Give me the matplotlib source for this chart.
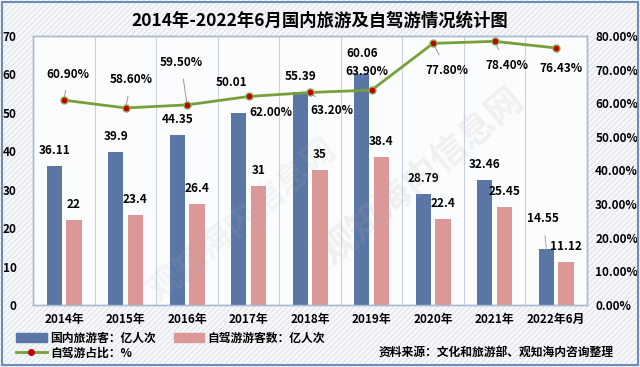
import matplotlib.pyplot as plt
from matplotlib.patches import Rectangle, Patch
from matplotlib.lines import Line2D
from matplotlib.ticker import FuncFormatter, MultipleLocator

plt.rcParams['font.family'] = ['Noto Sans CJK SC', 'DejaVu Sans']
plt.rcParams['font.weight'] = 'bold'

years = ['2014年', '2015年', '2016年', '2017年', '2018年', '2019年', '2020年', '2021年', '2022年6月']
domestic = [36.11, 39.9, 44.35, 50.01, 55.39, 60.06, 28.79, 32.46, 14.55]
selfdrive = [22, 23.4, 26.4, 31, 35, 38.4, 22.4, 25.45, 11.12]
share = [60.90, 58.60, 59.50, 62.00, 63.20, 63.90, 77.80, 78.40, 76.43]
# label offsets for the percent labels (pixels)
share_offsets = [(4, 26), (6, 28), (-6, 42), (22, -16), (22, -18), (-5, 19), (14, -27), (12, -24), (5, -21)]

blue = '#5A76A5'
pink = '#DC9797'
green = '#77A03A'

fig = plt.figure(figsize=(6.4, 3.67), dpi=100)
fig.patch.set_facecolor('#F7F8FA')
fig.patches.append(Rectangle((0, 0), 1, 1, transform=fig.transFigure, facecolor='none',
                             edgecolor='#E4E8EE', hatch='//////', linewidth=0, zorder=-5))
fig.patches.append(Rectangle((0.003, 0.005), 0.994, 0.99, transform=fig.transFigure, facecolor='none',
                             edgecolor='#6E8DB5', linewidth=1.5))

ax = fig.add_axes([0.052, 0.169, 0.865, 0.733])
ax.set_facecolor('#FBFCFD')
ax2 = ax.twinx()

x = list(range(len(years)))
w = 0.25
ax.bar([i - 0.16 for i in x], domestic, w, color=blue, zorder=3)
ax.bar([i + 0.16 for i in x], selfdrive, w, color=pink, zorder=3)

for i, v in enumerate(domestic):
    dx, dy = 0, 9
    if i == 3:
        dx, dy = -7, 24
    if i == 5:
        dy = 14
    if i == 8:
        ax.annotate(f'{v:g}', (i - 0.16, v), xytext=(-3, 31), textcoords='offset pixels',
                    ha='center', va='center', fontsize=8.5, fontweight='bold', zorder=6,
                    arrowprops=dict(arrowstyle='-', color='#B0B0B0', lw=0.8, shrinkA=6, shrinkB=0))
        continue
    ax.annotate(f'{v:g}', (i - 0.16, v), xytext=(dx, dy), textcoords='offset pixels',
                ha='center', va='bottom', fontsize=8.5, fontweight='bold')
for i, v in enumerate(selfdrive):
    ax.annotate(f'{v:g}', (i + 0.16, v), xytext=(0, 9), textcoords='offset pixels',
                ha='center', va='bottom', fontsize=8.5, fontweight='bold', zorder=6)

ax2.plot(x, share, color=green, lw=2, marker='o', ms=5, mfc='#C00000', mec='#8AAA50', zorder=5)
for i, v in enumerate(share):
    dx, dy = share_offsets[i]
    ax2.annotate(f'{v:.2f}%', (i, v), xytext=(dx, dy), textcoords='offset pixels',
                 ha='center', va='center', fontsize=8.5, fontweight='bold',
                 arrowprops=dict(arrowstyle='-', color='#9A9A9A', lw=0.7, shrinkA=5, shrinkB=0))

ax.set_xlim(-0.5, len(years) - 0.5)
ax.set_ylim(0, 70)
ax2.set_ylim(0, 80)
ax.yaxis.set_major_locator(MultipleLocator(10))
ax2.yaxis.set_major_locator(MultipleLocator(10))
ax2.yaxis.set_major_formatter(FuncFormatter(lambda v, p: f'{v:.2f}%'))

ax.set_xticks(x)
ax.set_xticklabels(years, fontsize=8.5, fontweight='bold')
ax.tick_params(axis='both', length=0, labelsize=8.5, pad=6)
ax2.tick_params(axis='y', length=0, labelsize=8.5, pad=6)
ax.tick_params(axis='y', pad=12)
ax.set_xticks([i + 0.5 for i in x[:-1]], minor=True)
ax.grid(axis='x', which='minor', color='#C9D3E0', lw=0.8, zorder=0)
ax.tick_params(axis='x', which='minor', length=0)
for a in (ax, ax2):
    for s in a.spines.values():
        s.set_color('#A9BBD2')
        s.set_linewidth(1)

fig.text(0.5, 0.945, '2014年-2022年6月国内旅游及自驾游情况统计图', ha='center', va='center',
         fontsize=12.5, fontweight='bold')

# watermark
fig.text(0.66, 0.52, '观知海内信息网', rotation=40, fontsize=26, color='#B0B0B0', alpha=0.15,
         ha='center', va='center')
fig.text(0.38, 0.4, '观知海内信息网', rotation=40, fontsize=24, color='#B0B0B0', alpha=0.12,
         ha='center', va='center')

handles = [Patch(color=blue), Line2D([], [], color=green, lw=2, marker='o', ms=4, mfc='#C00000', mec='#C00000'),
           Patch(color=pink)]
labels = ['国内旅游客：亿人次', '自驾游占比：%', '自驾游游客数：亿人次']
fig.legend(handles, labels, ncol=2, loc='lower left', bbox_to_anchor=(0.01, -0.005), frameon=False,
           fontsize=8.5, handlelength=2.6, handleheight=0.8, columnspacing=1.5, labelspacing=0.15,
           handletextpad=0.3, borderpad=0.3)
fig.text(0.958, 0.04, '资料来源：文化和旅游部、观知海内咨询整理', ha='right', va='center', fontsize=8.5,
         fontweight='bold')

fig.savefig('out.png', dpi=100, facecolor=fig.get_facecolor())
